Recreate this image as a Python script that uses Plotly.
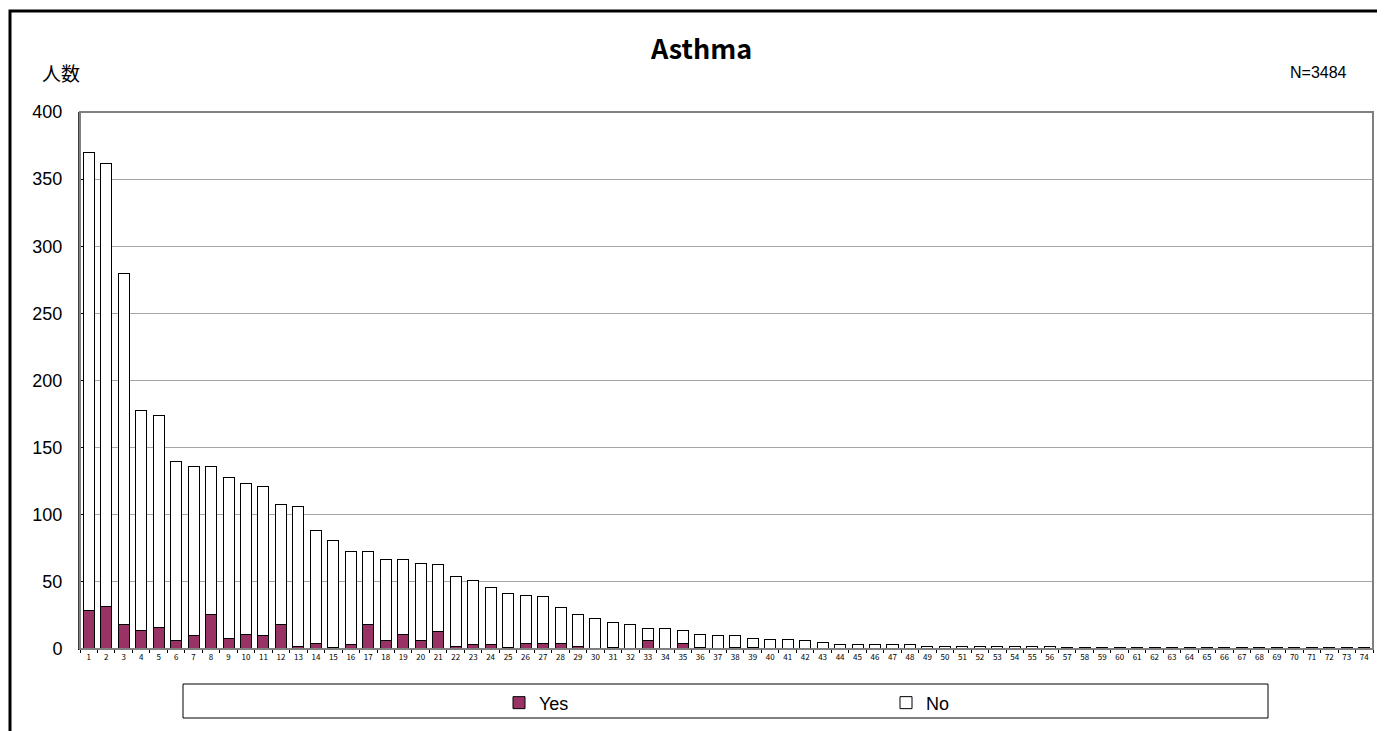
import plotly.graph_objects as go

categories = [str(i) for i in range(1, 75)]

yes = [29, 32, 18, 14, 16, 6, 10, 26, 8, 11, 10, 18, 2, 4, 1, 3, 18, 6, 11, 6,
       13, 2, 3, 3, 1, 4, 4, 4, 2, 0, 1, 0, 6, 0, 4, 1, 0, 1, 1, 0,
       0, 0, 0, 0, 0, 0, 0, 0, 0, 0, 0, 0, 0, 0, 0, 0, 0, 0, 0, 0,
       0, 0, 0, 0, 0, 0, 0, 0, 0, 0, 0, 0, 0, 0]

no = [341, 330, 262, 164, 158, 134, 126, 110, 120, 112, 111, 90, 104, 84, 80, 70, 55, 61, 56, 58,
      50, 52, 48, 43, 40, 36, 35, 27, 24, 23, 19, 18, 9, 15, 10, 10, 10, 9, 7, 7,
      7, 6, 5, 3, 3, 3, 3, 3, 2, 2, 2, 2, 2, 2, 2, 2, 1, 1, 1, 1,
      1, 1, 1, 1, 1, 1, 1, 1, 1, 1, 1, 1, 1, 1]

title = "Asthma"
y_label = "人数"
n_label = "N=3484"

font = "Noto Sans CJK JP"
num_font = "Liberation Sans"

fig = go.Figure()
fig.add_trace(go.Bar(x=categories, y=yes, name="Yes",
                     marker=dict(color="#993366", line=dict(color="black", width=1))))
fig.add_trace(go.Bar(x=categories, y=no, name="No",
                     marker=dict(color="white", line=dict(color="black", width=1))))

# the page body has an 8px margin, so the figure is 8px smaller each way
fig.update_layout(
    width=1377, height=723,
    barmode="stack", bargap=0.37,
    paper_bgcolor="white", plot_bgcolor="white",
    margin=dict(l=72, r=12, t=104, b=82, autoexpand=False),
    font=dict(family=font, color="black"),
    showlegend=True,
    legend=dict(orientation="h", x=(499 - 80) / 1293, xanchor="left", y=-0.066, yanchor="top",
                entrywidth=342, entrywidthmode="pixels",
                font=dict(size=18, family=num_font), traceorder="normal",
                bgcolor="rgba(0,0,0,0)"),
    xaxis=dict(type="category", showline=True, linecolor="black", linewidth=1,
               mirror=False, ticks="outside", ticklen=3, tickcolor="black",
               tickson="boundaries", tickangle=0, automargin=False,
               tickfont=dict(size=8, family=font, color="black"), showgrid=False),
    yaxis=dict(range=[0, 400], dtick=50, showgrid=True, gridcolor="#a6a6a6", gridwidth=1,
               showline=True, linecolor="#404040", linewidth=2, ticks="inside", ticklen=3,
               tickcolor="black", automargin=False, ticklabelstandoff=12,
               tickfont=dict(size=18, family=num_font), zeroline=False),
)

# plot area frame
fig.add_shape(type="rect", xref="paper", yref="paper", x0=0, x1=1, y0=0, y1=1,
              line=dict(color="#808080", width=2), layer="above")
# outer frame (cropped)
fig.add_shape(type="rect", xref="paper", yref="paper",
              x0=-70 / 1293, x1=1.05, y0=-0.2, y1=1 + 101 / 537,
              line=dict(color="black", width=3))
# legend box
fig.add_shape(type="rect", xref="paper", yref="paper",
              x0=(183 - 80) / 1293, x1=(1268 - 80) / 1293,
              y0=-(718 - 649) / 537, y1=-(684 - 649) / 537,
              line=dict(color="black", width=1))

fig.add_annotation(text=title, xref="paper", yref="paper", x=(701 - 80) / 1293,
                   y=1 + (112 - 48) / 537, showarrow=False, yanchor="middle",
                   font=dict(size=27, family=font, weight="bold"))
fig.add_annotation(text=y_label, xref="paper", yref="paper", x=-(80 - 40) / 1293,
                   y=1 + (112 - 72) / 537, showarrow=False, xanchor="left", yanchor="middle",
                   font=dict(size=19, family=font))
fig.add_annotation(text=n_label, xref="paper", yref="paper", x=1 - (1373 - 1349) / 1293,
                   y=1 + (112 - 72) / 537, showarrow=False, xanchor="right", yanchor="middle",
                   font=dict(size=16, family=num_font))

fig.write_html("out.html")
